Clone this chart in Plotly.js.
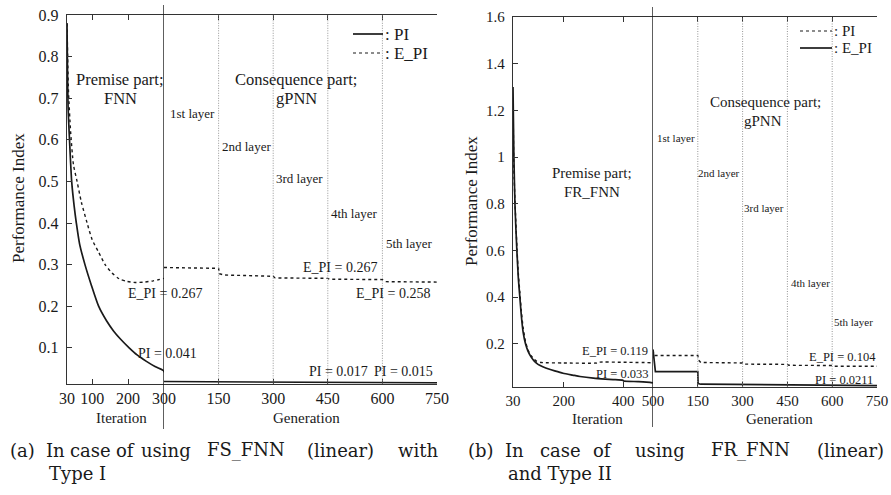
<!DOCTYPE html>
<html>
<head>
<meta charset="utf-8">
<script src="https://cdn.plot.ly/plotly-3.0.1.min.js"></script>
<style>html,body{margin:0;padding:0;background:#fff;}#chart{width:891px;height:495px;}</style>
</head>
<body>
<div id="chart"></div>
<script>
// ---------- Panel (a): FS_FNN (linear), Type I ----------
const iterA_PI   = [30, 33, 37, 43, 50, 56, 65, 80, 98, 118, 140, 160, 180, 203, 225, 250, 275, 299, 300];
const valA_PI    = [0.88, 0.68, 0.60, 0.50, 0.44, 0.40, 0.35, 0.30, 0.25, 0.20, 0.165, 0.14, 0.12, 0.10, 0.083, 0.068, 0.055, 0.045, 0.041];
const iterA_EPI  = [30, 34, 40, 48, 58, 70, 86, 100, 118, 136, 155, 175, 195, 220, 245, 270, 300];
const valA_EPI   = [0.88, 0.72, 0.62, 0.54, 0.50, 0.45, 0.40, 0.36, 0.33, 0.30, 0.28, 0.266, 0.26, 0.257, 0.258, 0.261, 0.267];
const genA_PI    = [0, 150, 190, 300, 450, 600, 700, 750];
const valA_gPI   = [0.019, 0.0185, 0.0175, 0.0175, 0.017, 0.017, 0.016, 0.0155];
const genA_EPI   = [0, 150, 152, 165, 300, 305, 450, 455, 600, 610, 750];
const valA_gEPI  = [0.293, 0.291, 0.278, 0.275, 0.272, 0.268, 0.267, 0.265, 0.264, 0.259, 0.258];

// ---------- Panel (b): FR_FNN (linear), Type II ----------
const iterB_solid = [30, 33, 37, 43, 48, 53, 58, 64, 72, 80, 90, 100, 114, 130, 150, 170, 198, 230, 255, 300, 340, 366, 399, 401, 450, 490, 500];
const valB_solid  = [1.30, 1.00, 0.78, 0.60, 0.48, 0.40, 0.32, 0.25, 0.20, 0.17, 0.145, 0.128, 0.112, 0.102, 0.092, 0.084, 0.074, 0.066, 0.060, 0.053, 0.049, 0.047, 0.044, 0.041, 0.038, 0.035, 0.033];
const iterB_dot   = [30, 33, 37, 43, 48, 53, 58, 64, 72, 80, 90, 100, 110, 125, 200, 310, 315, 400, 500];
const valB_dot    = [1.25, 0.95, 0.80, 0.62, 0.50, 0.42, 0.34, 0.27, 0.21, 0.175, 0.15, 0.135, 0.125, 0.12, 0.118, 0.118, 0.121, 0.121, 0.119];
const genB_solid  = [0, 3, 8, 150, 151, 160, 300, 450, 600, 750];
const valB_gsolid = [0.175, 0.14, 0.081, 0.081, 0.030, 0.027, 0.025, 0.023, 0.022, 0.0211];
const genB_dot    = [0, 2, 6, 150, 153, 160, 300, 303, 450, 455, 600, 605, 750];
const valB_gdot   = [0.175, 0.16, 0.15, 0.15, 0.13, 0.12, 0.118, 0.113, 0.112, 0.108, 0.107, 0.104, 0.104];

// ---------- Tick labels / text ----------
const iterTicksA = [30, 100, 200, 300];
const iterTicksB = [30, 200, 400, 500];
const genTicks   = [150, 300, 450, 600, 750];
const layerGens  = [150, 300, 450, 600];
const layerNames = ['1st layer', '2nd layer', '3rd layer', '4th layer', '5th layer'];

const W = 891, H = 495;
const SERIF = 'Liberation Serif, Times New Roman, serif';
const CAP = 'DejaVu Serif, serif';
const INK = '#1a1a1a';
const fx = x => x / W, fy = y => 1 - y / H;

const solid = {color: INK, width: 1.7};
const dotted = {color: INK, width: 1.4, dash: 'dot'};
const solidS = {color: INK, width: 1.7, shape: 'spline', smoothing: 0.6};
const dottedS = {color: INK, width: 1.4, dash: 'dot', shape: 'spline', smoothing: 0.6};

const traces = [
  {x: iterA_PI, y: valA_PI, xaxis: 'x', yaxis: 'y', mode: 'lines', line: solidS},
  {x: iterA_EPI, y: valA_EPI, xaxis: 'x', yaxis: 'y', mode: 'lines', line: dottedS},
  {x: genA_PI, y: valA_gPI, xaxis: 'x2', yaxis: 'y', mode: 'lines', line: solid},
  {x: genA_EPI, y: valA_gEPI, xaxis: 'x2', yaxis: 'y', mode: 'lines', line: dotted},
  {x: iterB_solid, y: valB_solid, xaxis: 'x3', yaxis: 'y2', mode: 'lines', line: solidS},
  {x: iterB_dot, y: valB_dot, xaxis: 'x3', yaxis: 'y2', mode: 'lines', line: dottedS},
  {x: genB_solid, y: valB_gsolid, xaxis: 'x4', yaxis: 'y2', mode: 'lines', line: solid},
  {x: genB_dot, y: valB_gdot, xaxis: 'x4', yaxis: 'y2', mode: 'lines', line: dotted}
];

const tickFontA = {family: SERIF, size: 16, color: INK};
const tickFontB = {family: SERIF, size: 15, color: INK};
function xax(domain, range, tickvals, anchor, font) {
  return {domain, range, tickmode: 'array', tickvals, ticktext: tickvals.map(String),
    showline: true, linecolor: '#333', linewidth: 1.3, mirror: 'ticks',
    ticks: 'inside', ticklen: 5, tickcolor: '#333', tickwidth: 1,
    showgrid: false, zeroline: false, anchor, tickfont: font, fixedrange: true};
}
function yax(domain, range, dtick, anchor, font, extra) {
  return Object.assign({domain, range, tick0: 0, dtick,
    showline: true, linecolor: '#333', linewidth: 1.3,
    ticks: 'inside', ticklen: 5, tickcolor: '#333', tickwidth: 1,
    showgrid: false, zeroline: false, anchor, tickfont: font, fixedrange: true}, extra || {});
}

const yDomA = [fy(383.8), fy(15)];
const yDomB = [fy(387), fy(17)];
const rangeA = [0.0135, 0.9];
const rangeB = [0.015, 1.6];

const layout = {
  width: W, height: H, autosize: false,
  margin: {l: 0, r: 0, t: 0, b: 0},
  paper_bgcolor: '#fff', plot_bgcolor: 'rgba(0,0,0,0)',
  showlegend: false,
  xaxis:  xax([fx(67), fx(164)], [30, 300], iterTicksA, 'y', tickFontA),
  xaxis2: xax([fx(164), fx(437)], [0, 750], genTicks, 'y', tickFontA),
  xaxis3: xax([fx(513), fx(653)], [30, 500], iterTicksB, 'y2', tickFontB),
  xaxis4: xax([fx(653), fx(877)], [0, 750], genTicks, 'y2', tickFontB),
  yaxis:  yax(yDomA, rangeA, 0.1, 'x', tickFontA, {ticklabelstandoff: 4}),
  yaxis2: yax(yDomB, rangeB, 0.2, 'x3', tickFontB, {ticklabelstandoff: 4}),
  yaxis3: yax(yDomA, rangeA, 0.1, 'x2', tickFontA, {overlaying: 'y', side: 'right', showticklabels: false}),
  yaxis4: yax(yDomB, rangeB, 0.2, 'x4', tickFontB, {overlaying: 'y2', side: 'right', showticklabels: false}),
  shapes: [],
  annotations: []
};

// boundaries between iteration and generation
layout.shapes.push({type: 'line', xref: 'x', x0: 300, x1: 300, yref: 'paper', y0: fy(429), y1: fy(5), line: {color: INK, width: 1.4}});
layout.shapes.push({type: 'line', xref: 'x3', x0: 500, x1: 500, yref: 'paper', y0: fy(427), y1: fy(7), line: {color: INK, width: 1.4}});
// layer separators
layerGens.forEach(g => {
  layout.shapes.push({type: 'line', xref: 'x2', x0: g, x1: g, yref: 'y', y0: rangeA[0], y1: rangeA[1], line: {color: '#8a8a8a', width: 0.9, dash: '1px,1.5px'}});
  layout.shapes.push({type: 'line', xref: 'x4', x0: g, x1: g, yref: 'y2', y0: rangeB[0], y1: rangeB[1], line: {color: '#8a8a8a', width: 0.9, dash: '1px,1.5px'}});
});
// legend samples
layout.shapes.push({type: 'line', xref: 'paper', yref: 'paper', x0: fx(353), x1: fx(383), y0: fy(34), y1: fy(34), line: solid});
layout.shapes.push({type: 'line', xref: 'paper', yref: 'paper', x0: fx(353), x1: fx(383), y0: fy(53), y1: fy(53), line: {color: INK, width: 1.2, dash: 'dot'}});
layout.shapes.push({type: 'line', xref: 'paper', yref: 'paper', x0: fx(800), x1: fx(832), y0: fy(31), y1: fy(31), line: {color: INK, width: 1.2, dash: 'dot'}});
layout.shapes.push({type: 'line', xref: 'paper', yref: 'paper', x0: fx(800), x1: fx(832), y0: fy(48), y1: fy(48), line: solid});

function ann(text, x, y, size, opts) {
  layout.annotations.push(Object.assign({xref: 'paper', yref: 'paper', x: fx(x), y: fy(y), text, showarrow: false,
    font: {family: SERIF, size, color: INK}, xanchor: 'center', yanchor: 'middle', borderpad: 0}, opts || {}));
}

// Panel (a) texts
ann('Performance Index', 18, 198, 17, {textangle: -90});
ann('Premise part;', 120, 79, 16.5);
ann('FNN', 120, 99, 16.5);
ann('Consequence part;', 296, 79, 16.5);
ann('gPNN', 296, 99, 16.5);
const layerPosA = [[192, 113], [246, 146], [299, 178], [354, 213], [409, 243]];
layerNames.forEach((t, i) => ann(t, layerPosA[i][0], layerPosA[i][1], 13));
ann('E_PI = 0.267', 340, 267, 14);
ann('E_PI = 0.267', 165, 293, 14);
ann('E_PI = 0.258', 393, 293, 14);
ann('PI = 0.041', 167, 353, 14);
ann('PI = 0.017', 338, 371, 14);
ann('PI = 0.015', 403, 371, 14);
ann(': PI', 384, 34, 17, {xanchor: 'left'});
ann(': E_PI', 384, 53, 17, {xanchor: 'left'});
ann('Iteration', 122, 418, 15);
ann('Generation', 306, 418, 15);

// Panel (b) texts
ann('Performance Index', 472, 201, 17, {textangle: -90});
ann('Premise part;', 592, 173, 15);
ann('FR_FNN', 592, 192, 15);
ann('Consequence part;', 765, 102, 15);
ann('gPNN', 763, 121, 15);
const layerPosB = [[676, 138], [719, 173], [764, 208], [810, 283], [853, 322]];
layerNames.forEach((t, i) => ann(t, layerPosB[i][0], layerPosB[i][1], 11));
ann('E_PI = 0.119', 615, 351, 12.5);
ann('PI = 0.033', 622, 374, 12.5);
ann('E_PI = 0.104', 842, 357, 12.5);
ann('PI = 0.0211', 844, 380, 12.5);
ann(': PI', 833, 31, 15, {xanchor: 'left'});
ann(': E_PI', 833, 48, 15, {xanchor: 'left'});
ann('Iteration', 597, 419, 15);
ann('Generation', 779, 419, 15);

// Captions (justified, word by word, centred on measured word centres)
const CAPSIZE = 18;
const capFont = {family: CAP, size: CAPSIZE, color: INK};
const capA1 = [['(a)', 22], ['In', 55.5], ['case', 90], ['of', 125], ['using', 166], ['FS_FNN', 245.5], ['(linear)', 340], ['with', 417.5]];
const capB1 = [['(b)', 481], ['In', 514.5], ['case', 560], ['of', 602], ['using', 660], ['FR_FNN', 750], ['(linear)', 850]];
capA1.forEach(w => ann(w[0], w[1], 450, CAPSIZE, {font: capFont}));
capB1.forEach(w => ann(w[0], w[1], 450, CAPSIZE, {font: capFont}));
ann('Type I', 48, 473, CAPSIZE, {xanchor: 'left', font: capFont});
ann('and Type II', 507, 473, CAPSIZE, {xanchor: 'left', font: capFont});

Plotly.newPlot('chart', traces, layout, {displayModeBar: false, staticPlot: true});
</script>
</body>
</html>
